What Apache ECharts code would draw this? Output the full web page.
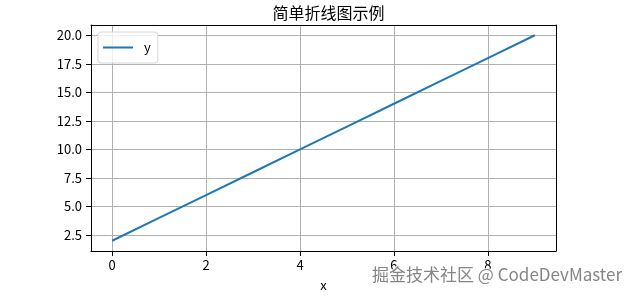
<!DOCTYPE html>
<html><head><meta charset="utf-8">
<script src="https://cdn.jsdelivr.net/npm/echarts@6/dist/echarts.min.js"></script>
<style>html,body{margin:0;padding:0;background:#fff}#c{width:634px;height:297px}</style>
</head><body><div id="c"></div>
<script>
const xValues = [0, 1, 2, 3, 4, 5, 6, 7, 8, 9];
const yValues = [2, 4, 6, 8, 10, 12, 14, 16, 18, 20];
const xTicks = [0, 2, 4, 6, 8];
const yTicks = [2.5, 5.0, 7.5, 10.0, 12.5, 15.0, 17.5, 20.0];
const seriesName = 'y';
const titleText = '简单折线图示例';
const xName = 'x';
const watermark = '掘金技术社区 @ CodeDevMaster';

const FONT = '"Noto Sans CJK SC", "DejaVu Sans", sans-serif';
const chart = echarts.init(document.getElementById('c'));
const axisCommon = {
  axisLine: {show: true, onZero: false, lineStyle: {color: '#000', width: 1}},
  axisTick: {show: true, inside: false, length: 5, lineStyle: {color: '#000'}},
  splitLine: {show: true, lineStyle: {color: '#b0b0b0', width: 1}},
  axisLabel: {color: '#000', fontFamily: FONT, fontSize: 13}
};
chart.setOption({
  animation: false,
  title: {text: titleText, left: 323.5, textAlign: 'center', top: 0,
    textStyle: {fontFamily: FONT, fontSize: 16, fontWeight: 'normal', color: '#000'}},
  grid: {left: 91, right: 78, top: 25, bottom: 41, show: false},
  legend: {show: true, left: 98, top: 32, orient: 'vertical',
    data: [{name: seriesName, icon: 'path://M0,0 L30,0 L30,2 L0,2 Z'}],
    itemWidth: 30, itemHeight: 2, itemGap: 4,
    padding: [9, 7, 9, 5], borderColor: '#d6d6d6', borderWidth: 1, borderRadius: 3,
    backgroundColor: 'rgba(255,255,255,0.8)',
    textStyle: {fontFamily: FONT, fontSize: 13, color: '#000', padding: [0, 0, 0, 6]}},
  xAxis: [{
    type: 'value', min: -0.45, max: 9.45, position: 'bottom',
    name: xName, nameLocation: 'middle', nameGap: 28,
    nameTextStyle: {fontFamily: FONT, fontSize: 13, color: '#000'},
    ...axisCommon,
    axisTick: {...axisCommon.axisTick, customValues: xTicks},
    axisLabel: {...axisCommon.axisLabel, customValues: xTicks, margin: 8}
  }, {
    type: 'value', min: -0.45, max: 9.45, position: 'top',
    axisLine: {show: true, onZero: false, lineStyle: {color: '#000', width: 1}},
    axisTick: {show: false}, axisLabel: {show: false}, splitLine: {show: false}
  }],
  yAxis: [{
    type: 'value', min: 1.1, max: 20.9, position: 'left',
    ...axisCommon,
    axisTick: {...axisCommon.axisTick, customValues: yTicks},
    axisLabel: {...axisCommon.axisLabel, customValues: yTicks, margin: 9,
      formatter: v => v.toFixed(1)}
  }, {
    type: 'value', min: 1.1, max: 20.9, position: 'right',
    axisLine: {show: true, onZero: false, lineStyle: {color: '#000', width: 1}},
    axisTick: {show: false}, axisLabel: {show: false}, splitLine: {show: false}
  }],
  series: [{
    name: seriesName, type: 'line', xAxisIndex: 0, yAxisIndex: 0,
    data: xValues.map((x, i) => [x, yValues[i]]),
    showSymbol: false, symbol: 'none',
    lineStyle: {color: '#1f77b4', width: 2}, itemStyle: {color: '#1f77b4'}, z: 5
  }],
  graphic: [{
    type: 'text', right: 11, top: 265, z: 100,
    style: {text: watermark, fontFamily: FONT, fontSize: 17, fill: 'rgba(120,120,120,0.9)',
      stroke: 'rgba(255,255,255,0.9)', lineWidth: 2}
  }]
});
</script></body></html>
